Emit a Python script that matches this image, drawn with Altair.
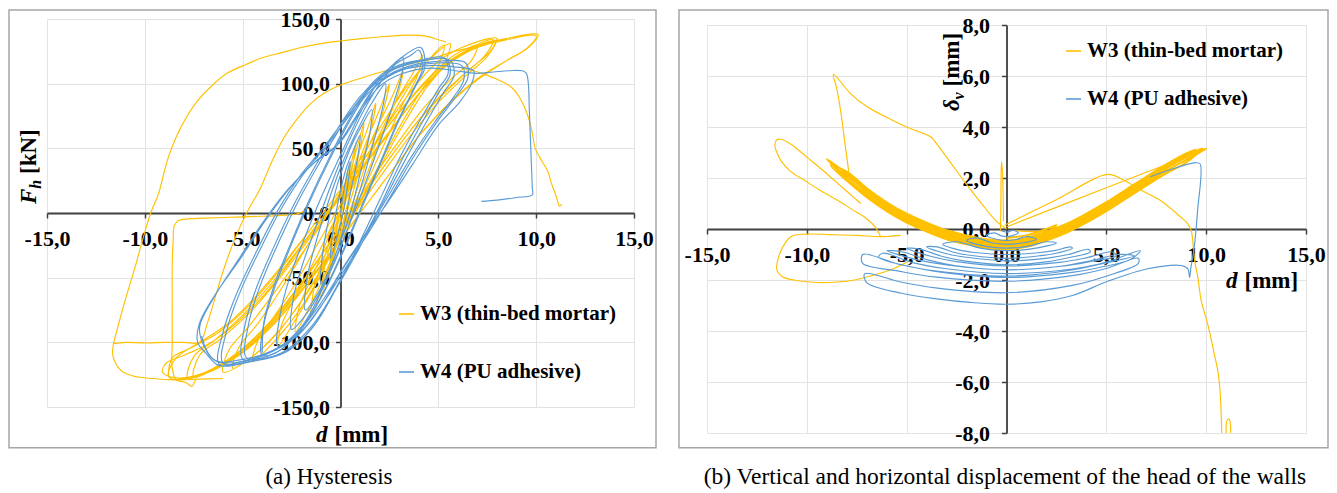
import altair as alt
import pandas as pd

SERIES = ["W3 (thin-bed mortar)", "W4 (PU adhesive)"]
COLORS = ["#FFC000", "#5B9BD5"]
D_TICKS = [-15, -10, -5, 0, 5, 10, 15]
F_TICKS = [-150, -100, -50, 0, 50, 100, 150]
V_TICKS = [-8, -6, -4, -2, 0, 2, 4, 6, 8]
SERIF = "Liberation Serif"

# ---------------- (a) hysteresis: d [mm], F_h [kN] ----------------
W3_H_CYCLES = [
    (0.0, 0), (0.15, 15), (0.4, 35),
    (0.25, 18), (0.0, -5), (-0.3, -30),
    (-0.15, -10), (0.2, 15), (0.5, 35), (0.8, 55),
    (0.6, 35), (0.25, 8), (-0.15, -20), (-0.4, -38), (-0.6, -50),
    (-0.45, -28), (-0.05, -2), (0.4, 25), (0.8, 48), (1.2, 70),
    (1.0, 50), (0.55, 20), (0.05, -12), (-0.5, -40), (-1.0, -65),
    (-0.85, -45), (-0.35, -15), (0.3, 15), (0.9, 45), (1.4, 66), (1.8, 85),
    (1.55, 64), (1.0, 35), (0.4, 4), (-0.3, -28), (-0.9, -55), (-1.5, -80),
    (-1.35, -58), (-0.8, -33), (-0.1, -3), (0.7, 30), (1.4, 58), (2.0, 80), (2.5, 100),
    (2.2, 80), (1.6, 52), (0.9, 20), (0.1, -14), (-0.7, -44), (-1.5, -70), (-2.3, -92),
    (-2.1, -72), (-1.4, -48), (-0.6, -18), (0.3, 13), (1.2, 44), (2.0, 70), (2.7, 92), (3.2, 110),
    (2.9, 90), (2.2, 64), (1.4, 32), (0.5, 0), (-0.5, -32), (-1.5, -62), (-2.4, -85), (-3.2, -103),
    (-3.0, -86), (-2.2, -62), (-1.2, -33), (-0.2, -3), (0.9, 28), (1.9, 58), (2.9, 88), (3.7, 108), (4.2, 122),
    (3.9, 105), (3.1, 82), (2.2, 52), (1.2, 19), (0.2, -12), (-0.9, -44), (-2.0, -73), (-3.3, -98), (-4.5, -115),
    (-4.2, -98), (-3.3, -78), (-2.2, -52), (-1.1, -22), (0.1, 9), (1.3, 40), (2.5, 72), (3.6, 100), (4.6, 120), (5.3, 130),
    (5.0, 114), (4.1, 94), (3.0, 66), (1.8, 32), (0.6, -2), (-0.7, -36), (-2.0, -68), (-3.3, -94), (-4.5, -111), (-5.5, -120),
    (-5.2, -104), (-4.2, -85), (-3.0, -58), (-1.8, -28), (-0.5, 4), (0.8, 36), (2.1, 68), (3.3, 96), (4.5, 118), (5.6, 131),
    (5.3, 115), (4.3, 95), (3.2, 68), (2.0, 35), (0.8, 2), (-0.5, -32), (-1.8, -64), (-3.2, -92), (-4.6, -112), (-6.0, -123),
    (-5.7, -106), (-4.7, -88), (-3.4, -62), (-2.0, -32), (-0.6, 0), (0.8, 32), (2.2, 64), (3.6, 94), (4.9, 116), (6.2, 128), (8.0, 135),
    (7.6, 124), (6.5, 110), (5.2, 92), (3.9, 70), (2.6, 44), (1.2, 14), (-0.3, -18), (-1.8, -50), (-3.3, -80), (-4.8, -103), (-6.2, -118), (-7.5, -127),
    (-7.2, -110), (-6.1, -97), (-4.7, -78), (-3.2, -52), (-1.7, -22), (-0.2, 8), (1.3, 38), (2.8, 68), (4.2, 96), (5.5, 116), (6.7, 128), (7.8, 134),
    (7.4, 122), (6.3, 107), (5.0, 88), (3.7, 66), (2.4, 40), (1.0, 10), (-0.5, -22), (-2.0, -54), (-3.6, -84), (-5.1, -106), (-6.5, -120), (-7.8, -128),
    (-7.5, -111), (-6.4, -98), (-5.0, -79), (-3.5, -54), (-2.0, -25), (-0.5, 5), (1.0, 34), (2.6, 65), (4.1, 94), (5.6, 117), (7.0, 129), (8.5, 135), (10.1, 138),
    (9.6, 128), (8.5, 118), (7.1, 105), (5.7, 87), (4.3, 65), (2.9, 38), (1.4, 8), (-0.1, -22), (-1.7, -54), (-3.3, -84), (-4.9, -106), (-6.4, -120), (-7.8, -127), (-8.6, -127), (-9.1, -123),
    (-8.9, -116), (-8.0, -110), (-6.6, -100), (-5.1, -82), (-3.6, -58), (-2.1, -28), (-0.6, 2), (0.9, 32), (2.5, 63), (4.0, 92), (5.5, 115), (7.0, 128), (8.5, 134), (10.0, 137),
    (9.5, 127), (8.4, 117), (7.0, 103), (5.6, 85), (4.2, 63), (2.8, 36), (1.3, 6), (-0.2, -25), (-1.8, -57), (-3.4, -86), (-5.0, -108), (-6.5, -121), (-7.8, -128), (-8.6, -127),
]
W3_H_REPEAT = [
    (-8.8, -126), (-8.6, -112), (-7.6, -104), (-6.2, -92), (-4.7, -72), (-3.2, -46), (-1.7, -16), (-0.2, 14),
    (1.3, 44), (2.8, 74), (4.3, 100), (5.6, 118), (6.8, 128), (7.9, 133),
    (7.5, 121), (6.4, 106), (5.1, 87), (3.8, 64), (2.5, 38), (1.1, 8), (-0.4, -24), (-1.9, -56), (-3.5, -86),
    (-5.0, -107), (-6.4, -121), (-7.6, -127), (-8.4, -129), (-8.8, -126),
    (-8.4, -112), (-7.2, -100), (-5.8, -86), (-4.3, -64), (-2.8, -37), (-1.3, -8), (0.2, 22), (1.7, 52),
    (3.2, 82), (4.6, 106), (5.8, 122), (6.6, 128), (7.0, 130),
    (6.7, 118), (5.6, 103), (4.3, 82), (3.0, 56), (1.6, 26), (0.2, -6), (-1.3, -40), (-2.9, -74), (-4.5, -100),
    (-6.0, -117), (-7.2, -125), (-8.2, -129),
]
W3_H_CURVE1 = [
    (-6.0, -128), (-7.2, -128.5), (-8.4, -129), (-9.6, -128), (-10.6, -126), (-11.2, -122), (-11.5, -116),
    (-11.65, -109), (-11.6, -101), (-11.45, -92), (-11.2, -78), (-10.9, -62), (-10.5, -42), (-10.1, -20),
    (-9.7, 0), (-9.3, 15), (-8.8, 43), (-8.1, 68), (-7.4, 85), (-6.6, 98), (-5.8, 108), (-4.8, 115),
    (-4.0, 120), (-3.0, 124), (-2.0, 128), (-1.0, 131), (0.0, 133), (1.2, 135), (2.3, 136.5), (3.5, 137.5),
    (4.3, 137), (5.0, 134), (5.4, 132),
]
W3_H_CURVE2 = [
    (-11.6, -101), (-11.0, -100), (-10.0, -100.5), (-9.0, -100), (-8.0, -100), (-7.2, -100), (-6.8, -85),
    (-6.4, -65), (-6.0, -45), (-5.4, -20), (-4.8, 0), (-4.1, 19), (-3.5, 40), (-2.9, 58), (-2.2, 73),
    (-1.5, 85), (-0.8, 93), (0.0, 99), (1.2, 105), (2.3, 110), (3.5, 115), (4.8, 120), (5.8, 125),
    (6.7, 128), (7.4, 131), (8.0, 134),
]
W3_H_DROP = [
    (-7.4, -128), (-7.6, -134), (-7.9, -131), (-8.4, -129), (-8.6, -120), (-8.6, -100), (-8.6, -70),
    (-8.6, -40), (-8.55, -20), (-8.5, -10), (-8.3, -6), (-7.8, -4.5), (-7.0, -4), (-6.0, -3.5),
    (-5.0, -3), (-4.0, -2.5), (-3.0, -1.8), (-2.3, -1), (-1.8, 2),
]
W3_H_TAIL = [
    (6.2, 112), (6.8, 110), (7.4, 107), (8.2, 102), (8.75, 97), (9.2, 88), (9.6, 74), (9.8, 62),
    (9.95, 50), (10.3, 40), (10.6, 32), (10.8, 22), (11.0, 14), (11.1, 9), (11.2, 5), (11.3, 7),
]
W4_H_CYCLES = [
    (0.0, 0), (0.2, 20), (0.5, 40),
    (0.4, 25), (0.1, -2), (-0.2, -20), (-0.5, -35),
    (-0.4, -15), (-0.1, 10), (0.3, 35), (0.7, 50), (1.0, 60),
    (0.9, 45), (0.5, 15), (0.1, -15), (-0.4, -38), (-1.0, -55),
    (-0.9, -30), (-0.6, -5), (-0.1, 25), (0.5, 50), (1.1, 68), (1.6, 80),
    (1.5, 62), (1.0, 30), (0.5, 0), (-0.2, -30), (-1.0, -58), (-1.8, -75),
    (-1.7, -50), (-1.3, -25), (-0.7, 5), (0.0, 35), (0.8, 62), (1.6, 85), (2.3, 100),
    (2.2, 85), (1.6, 50), (1.0, 18), (0.3, -15), (-0.6, -48), (-1.6, -75), (-2.5, -90),
    (-2.4, -65), (-1.9, -38), (-1.2, -8), (-0.4, 25), (0.5, 58), (1.4, 85), (2.3, 106), (3.2, 120),
    (3.1, 105), (2.6, 80), (1.8, 45), (1.0, 12), (0.1, -22), (-0.9, -58), (-2.0, -88), (-3.2, -103),
    (-3.1, -80), (-2.6, -50), (-1.8, -18), (-0.9, 15), (0.1, 48), (1.1, 80), (2.1, 105), (3.1, 120), (4.1, 128),
    (4.3, 112), (3.9, 100), (3.0, 72), (2.1, 40), (1.2, 8), (0.2, -28), (-0.9, -63), (-2.1, -92), (-3.2, -107), (-4.0, -110),
    (-3.9, -85), (-3.3, -55), (-2.5, -24), (-1.6, 8), (-0.6, 40), (0.5, 72), (1.6, 98), (2.8, 113), (4.0, 118), (5.3, 120),
    (5.5, 108), (5.0, 96), (4.0, 70), (3.0, 42), (2.0, 10), (1.0, -22), (-0.1, -55), (-1.3, -86), (-2.6, -106), (-3.9, -113), (-5.0, -113),
    (-4.9, -88), (-4.3, -58), (-3.4, -26), (-2.4, 6), (-1.3, 36), (-0.2, 64), (1.0, 90), (2.3, 108), (3.9, 117), (5.6, 118),
    (5.8, 106), (5.3, 94), (4.3, 68), (3.2, 38), (2.1, 6), (1.0, -26), (-0.2, -58), (-1.5, -88), (-3.0, -108), (-4.6, -115), (-6.2, -117),
    (-6.0, -92), (-5.3, -62), (-4.3, -30), (-3.2, 2), (-2.0, 30), (-0.8, 52), (0.5, 78), (1.8, 100), (3.2, 112), (4.8, 117), (6.4, 116),
    (6.5, 104), (6.0, 92), (5.0, 72), (3.8, 45), (2.6, 14), (1.4, -16), (0.2, -44), (-1.0, -72), (-2.3, -96), (-3.9, -109), (-5.3, -114), (-6.3, -115), (-7.0, -102), (-7.2, -88),
    (-6.5, -66), (-5.3, -38), (-4.0, -8), (-2.7, 18), (-1.4, 38), (-0.2, 52), (0.8, 75), (1.8, 98), (3.0, 110), (4.5, 114), (5.8, 113), (6.8, 110),
    (6.7, 100), (6.1, 86), (5.0, 68), (3.7, 38), (2.4, 8), (1.2, -18), (0.1, -43), (-0.9, -70), (-2.2, -95), (-3.9, -110), (-5.1, -115), (-6.2, -118), (-6.9, -108), (-7.3, -100),
    (-7.2, -85), (-6.4, -63), (-5.1, -35), (-3.8, -5), (-2.5, 21), (-1.2, 41), (0.0, 55), (1.0, 78), (2.0, 98), (3.2, 108), (4.6, 112), (5.9, 110), (6.9, 108),
    (7.8, 109), (8.6, 110), (9.3, 110), (9.5, 108), (9.6, 100), (9.65, 80), (9.7, 60), (9.75, 40), (9.8, 20), (9.8, 14), (9.0, 12), (8.0, 10), (7.2, 9),
]
W4_H_REPEAT = [
    (-4.0, -108), (-3.9, -83), (-3.3, -52), (-2.5, -22), (-1.6, 10), (-0.6, 42), (0.5, 74), (1.6, 100),
    (2.8, 115), (3.6, 122), (4.0, 126),
    (4.2, 112), (3.8, 98), (2.9, 70), (2.0, 38), (1.1, 6), (0.1, -30), (-1.0, -65), (-2.2, -93), (-3.3, -108), (-4.8, -112),
    (-4.7, -86), (-4.1, -56), (-3.2, -24), (-2.2, 8), (-1.1, 38), (0.0, 66), (1.2, 92), (2.6, 110), (4.0, 117), (5.4, 119),
    (5.6, 107), (5.1, 95), (4.1, 68), (3.1, 40), (2.1, 8), (1.0, -24), (-0.2, -57), (-1.4, -88), (-2.8, -107), (-4.4, -114), (-6.0, -116),
    (-5.8, -90), (-5.1, -60), (-4.1, -28), (-3.0, 4), (-1.8, 32), (-0.6, 54), (0.7, 80), (2.0, 101), (3.4, 112), (5.0, 116), (6.2, 114),
    (6.3, 103), (5.8, 90), (4.8, 70), (3.6, 43), (2.4, 12), (1.2, -18), (0.0, -46), (-1.2, -74), (-2.5, -97), (-4.0, -110),
    (-5.6, -116), (-6.6, -112), (-7.1, -95),
]

# ---------------- (b) vertical vs horizontal displacement: d [mm], delta_v [mm] ----------------
W3_V_BAND = [
    (0, -0.35), (1, -0.25), (2, 0.0), (2.5, 0.15),
    (2, -0.15), (1, -0.40), (0, -0.50), (-1, -0.45), (-2, -0.30), (-2.5, -0.21),
    (-2, -0.35), (-1, -0.50), (0, -0.55), (1, -0.45), (2, -0.20), (3, 0.10), (3.5, 0.30),
    (3, 0.0), (2, -0.30), (1, -0.55), (0, -0.65), (-1, -0.60), (-2, -0.45), (-3, -0.25), (-4, 0.05), (-4.5, 0.22),
    (-4, 0.10), (-3, -0.20), (-2, -0.40), (-1, -0.55), (0, -0.60), (1, -0.50), (2, -0.25), (3, 0.05), (4, 0.45), (5, 0.90), (5.5, 1.15),
    (5, 0.80), (4, 0.35), (3, -0.05), (2, -0.35), (1, -0.60), (0, -0.70), (-1, -0.65), (-2, -0.50), (-3, -0.30), (-4, 0.0), (-5, 0.35), (-6, 0.80), (-6.5, 1.07),
    (-6, 0.85), (-5, 0.40), (-4, 0.05), (-3, -0.25), (-2, -0.45), (-1, -0.60), (0, -0.65), (1, -0.55), (2, -0.30), (3, 0.0), (4, 0.40), (5, 0.85), (6, 1.35), (7, 1.85), (8, 2.33),
    (7, 1.75), (6, 1.25), (5, 0.75), (4, 0.30), (3, -0.10), (2, -0.40), (1, -0.65), (0, -0.75), (-1, -0.70), (-2, -0.55), (-3, -0.35), (-4, -0.05), (-5, 0.30), (-6, 0.75), (-7, 1.30), (-8, 1.95), (-8.5, 2.32),
    (-8, 2.10), (-7, 1.45), (-6, 0.90), (-5, 0.45), (-4, 0.10), (-3, -0.20), (-2, -0.40), (-1, -0.55), (0, -0.60), (1, -0.50), (2, -0.25), (3, 0.05), (4, 0.45), (5, 0.90), (6, 1.40), (7, 1.90), (8, 2.38), (9, 2.81), (10, 3.15),
    (9, 2.71), (8, 2.28), (7, 1.80), (6, 1.30), (5, 0.80), (4, 0.35), (3, -0.05), (2, -0.35), (1, -0.60), (0, -0.70), (-1, -0.65), (-2, -0.50), (-3, -0.30), (-4, 0.0), (-5, 0.35), (-6, 0.80), (-7, 1.35), (-8, 2.00), (-9, 2.75),
    (-8, 2.17), (-7, 1.52), (-6, 0.97), (-5, 0.52), (-4, 0.17), (-3, -0.13), (-2, -0.33), (-1, -0.48), (0, -0.53), (1, -0.43), (2, -0.18), (3, 0.12), (4, 0.52), (5, 0.97), (6, 1.47), (7, 1.97), (8, 2.45), (9, 2.88), (9.8, 3.16),
    (9, 2.61), (8, 2.18), (7, 1.70), (6, 1.20), (5, 0.70), (4, 0.25), (3, -0.15), (2, -0.45), (1, -0.70), (0, -0.80), (-1, -0.75), (-2, -0.60), (-3, -0.40), (-4, -0.10), (-5, 0.25), (-6, 0.70), (-7, 1.25), (-8, 1.90), (-8.8, 2.50),
    (-8, 2.25), (-7, 1.60), (-6, 1.05), (-5, 0.60), (-4, 0.25), (-3, -0.05), (-2, -0.25), (-1, -0.40), (0, -0.45), (1, -0.35), (2, -0.10), (3, 0.20), (4, 0.60), (5, 1.05), (6, 1.55), (7, 2.05), (8, 2.53), (9, 2.96), (9.5, 3.12),
]
W3_V_SPIKE = [
    (-7.9, 2.25), (-8.1, 3.4), (-8.3, 4.6), (-8.5, 5.5), (-8.67, 6.07), (-7.8, 5.3), (-7.0, 4.8),
    (-6.3, 4.5), (-5.0, 4.0), (-3.8, 3.62), (-3.6, 3.45), (-2.8, 2.6), (-2.0, 1.75), (-1.2, 0.95),
    (-0.5, 0.3), (0.0, 0.0),
]
W3_V_UPPER = [
    (-7.3, 1.0), (-8.0, 1.48), (-8.8, 2.03), (-9.5, 2.5), (-10.0, 2.82), (-10.5, 3.15), (-10.95, 3.4),
    (-11.3, 3.52), (-11.5, 3.5), (-11.6, 3.3), (-11.5, 3.0), (-11.3, 2.68), (-10.8, 2.25), (-10.1, 1.9),
    (-9.3, 1.5), (-8.4, 1.1), (-7.7, 0.75), (-7.1, 0.46), (-6.6, 0.1), (-6.3, -0.3),
]
W3_V_LOWER = [
    (-5.3, -0.25), (-6.3, -0.3), (-7.5, -0.25), (-8.8, -0.22), (-10.0, -0.2), (-10.8, -0.3), (-11.2, -0.7),
    (-11.45, -1.2), (-11.5, -1.6), (-11.2, -1.88), (-10.5, -2.02), (-9.5, -2.1), (-8.5, -2.08),
    (-7.6, -2.0), (-6.7, -1.82), (-5.8, -1.6), (-5.0, -1.3),
]
W3_V_LINE = [(0.0, 0.08), (5.0, 1.62), (10.0, 3.12)]
W3_V_TAIL = [
    (-0.1, 0.15), (2.5, 1.15), (5.08, 2.14), (5.9, 1.9), (6.8, 1.5), (7.75, 1.1), (8.75, 0.45),
    (9.08, 0.2), (9.25, -0.06), (9.42, -1.23), (9.58, -1.88), (9.75, -2.8), (10.1, -3.8),
    (10.4, -4.87), (10.6, -5.65), (10.7, -6.4), (10.75, -7.2), (10.78, -8.0),
]
W3_V_HOOK = [(11.0, -8.0), (11.05, -7.5), (11.15, -7.45), (11.22, -7.7), (11.22, -8.0)]
W3_V_STEM = [(-0.3, -0.1), (-0.28, 1.2), (-0.25, 2.65), (-0.2, 2.2), (-0.15, 0.3)]
W3_V_DASH = [(0.3, -0.05), (1.5, -0.1), (3.2, 0.0)]
W4_V_ARCS = [
    (-0.3, -0.05), (-0.15, -0.10), (0, -0.12), (0.15, -0.10), (0.3, -0.05),
    (0.6, -0.15), (0.3, -0.26), (0, -0.30), (-0.3, -0.26), (-0.6, -0.15),
    (-1.0, -0.25), (-0.5, -0.40), (0, -0.45), (0.5, -0.41), (1.0, -0.30),
    (1.5, -0.40), (0.75, -0.55), (0, -0.60), (-0.75, -0.54), (-1.5, -0.35),
    (-2.0, -0.45), (-1.0, -0.68), (0, -0.75), (1.0, -0.69), (2.0, -0.50),
    (2.5, -0.55), (1.25, -0.78), (0, -0.85), (-1.25, -0.76), (-2.5, -0.50),
    (-3.2, -0.60), (-2.4, -0.82), (-1.6, -0.92), (0, -1.00), (1.6, -0.93), (2.4, -0.85), (3.2, -0.70),
    (3.3, -0.75), (2.5, -0.95), (1.65, -1.05), (0, -1.15), (-1.75, -1.04), (-2.6, -0.92), (-3.5, -0.70),
    (-4.0, -0.70), (-3.0, -0.97), (-2.0, -1.11), (0, -1.25), (2.05, -1.14), (3.1, -1.0), (4.1, -0.80),
    (4.2, -0.90), (3.15, -1.12), (2.1, -1.28), (0, -1.40), (-2.15, -1.25), (-3.2, -1.08), (-4.3, -0.80),
    (-5.0, -0.75), (-3.75, -1.08), (-2.5, -1.28), (0, -1.45), (2.65, -1.31), (4.0, -1.13), (5.3, -0.90),
    (5.5, -1.05), (4.1, -1.29), (2.75, -1.46), (0, -1.60), (-2.6, -1.43), (-3.9, -1.22), (-5.2, -0.90),
    (-6.0, -0.85), (-4.5, -1.20), (-3.0, -1.41), (0, -1.60), (2.8, -1.45), (4.2, -1.25), (5.6, -1.00),
    (6.4, -1.05), (4.8, -1.36), (3.2, -1.58), (0, -1.75), (-3.1, -1.55), (-4.65, -1.33), (-6.2, -0.95),
    (-6.4, -1.10), (-4.8, -1.48), (-3.2, -1.70), (0, -1.90), (3.1, -1.72), (4.65, -1.51), (6.2, -1.20),
    (6.7, -0.85), (5.0, -1.30), (3.35, -1.60), (0, -1.85), (-3.6, -1.64), (-5.4, -1.38), (-7.2, -1.00),
    (-7.2, -1.35), (-5.4, -1.65), (-3.6, -1.88), (0, -2.05), (3.3, -1.83), (4.95, -1.56), (6.6, -1.15),
    (6.6, -1.35), (4.95, -1.86), (3.3, -2.21), (0, -2.50), (-3.55, -2.31), (-5.3, -2.08), (-7.1, -1.75),
    (-7.0, -2.10), (-5.25, -2.52), (-3.5, -2.74), (-1.8, -2.88), (0, -2.95), (1.7, -2.86), (3.3, -2.61), (5.07, -2.05),
    (7.08, -1.56), (8.75, -1.43), (9.08, -1.56), (9.17, -1.9), (9.22, -1.6), (9.4, -0.72),
    (9.57, 0.72), (9.7, 2.55), (9.5, 2.6), (8.5, 2.4), (7.2, 2.05),
]

ONE = pd.DataFrame({"k": [0]})


def frame(parts):
    rows = []
    for series, name, pts in parts:
        for i, (x, y) in enumerate(pts):
            rows.append({"series": series, "seg": name, "i": i, "x": x, "y": y})
    return pd.DataFrame(rows)


LAB = "(datum.value < 0 ? '-' : '') + replace(format(abs(datum.value), '.1f'), '.', ',')"


def axis_common():
    return dict(labelExpr=LAB, labelFont=SERIF, labelFontWeight="bold", labelFontSize=22,
                labelColor="black", domainColor="#404040", domainWidth=1.8, tickColor="#404040",
                tickWidth=1.5, tickSize=5, gridColor="#E3E3E3", gridWidth=1, grid=True,
                labelOverlap=False, labelFlush=False, labelBound=False, title=None)


def lines(df, ydom, yticks, W, H, lx, ly, rowpad, ylabpad):
    x = alt.X("x:Q", scale=alt.Scale(domain=[-15, 15], nice=False, zero=False),
              axis=alt.Axis(values=D_TICKS, offset=-H / 2, labelPadding=10, **axis_common()))
    y = alt.Y("y:Q", scale=alt.Scale(domain=ydom, nice=False, zero=False),
              axis=alt.Axis(values=yticks, offset=-W / 2, labelPadding=ylabpad, **axis_common()))
    color = alt.Color("series:N", scale=alt.Scale(domain=SERIES, range=COLORS),
                      legend=alt.Legend(title=None, orient="none", legendX=lx, legendY=ly,
                                        symbolType="stroke", symbolSize=225, symbolStrokeWidth=1.6,
                                        labelFont=SERIF, labelFontWeight="bold", labelFontSize=21,
                                        labelColor="black", labelOffset=3, rowPadding=rowpad,
                                        padding=0, labelLimit=400))
    return alt.Chart(df).mark_line(clip=True, strokeJoin="round", interpolate="catmull-rom").encode(
        x=x, y=y, color=color, detail="seg:N", order="i:Q",
        strokeWidth=alt.condition("datum.seg == 'band'", alt.value(2.0), alt.value(1.15)),
    )


def txt(s, x, y, size=23, style="normal", weight="bold", angle=0, align="left"):
    return alt.Chart(ONE).mark_text(text=s, font=SERIF, fontSize=size, fontStyle=style,
                                    fontWeight=weight, angle=angle, align=align,
                                    baseline="alphabetic", color="black").encode(
        x=alt.value(x), y=alt.value(y))


def border(x1, x2, y1, y2):
    return alt.Chart(ONE).mark_rect(fill="white", fillOpacity=0, stroke="#A6A6A6",
                                    strokeWidth=1.5).encode(
        x=alt.value(x1), x2=alt.value(x2), y=alt.value(y1), y2=alt.value(y2))


LW, LH = 587, 388
RW, RH = 599, 408

left_df = frame([
    (SERIES[0], "a1", W3_H_CYCLES), (SERIES[0], "a6", W3_H_REPEAT), (SERIES[0], "a2", W3_H_CURVE1),
    (SERIES[0], "a3", W3_H_CURVE2), (SERIES[0], "a4", W3_H_DROP), (SERIES[0], "a5", W3_H_TAIL),
    (SERIES[1], "b1", W4_H_CYCLES), (SERIES[1], "b2", W4_H_REPEAT),
])
right_df = frame([
    (SERIES[0], "band", W3_V_BAND), (SERIES[0], "c1", W3_V_SPIKE), (SERIES[0], "c2", W3_V_UPPER),
    (SERIES[0], "c3", W3_V_LOWER), (SERIES[0], "c4", W3_V_LINE), (SERIES[0], "c5", W3_V_TAIL),
    (SERIES[0], "c6", W3_V_HOOK), (SERIES[0], "c7", W3_V_STEM), (SERIES[0], "c8", W3_V_DASH),
    (SERIES[1], "d1", W4_V_ARCS),
])

left = alt.layer(
    border(-38, 609, -9, 428.7),
    lines(left_df, [-150, 150], F_TICKS, LW, LH, 349, 284.5, 36, 6),
    txt("F", -11, 185, style="italic", angle=270),
    txt("h", -6, 169.7, size=16, style="italic", angle=270),
    txt("[kN]", -11, 155, angle=270),
    txt("d", 269, 423, style="italic"),
    txt("[mm]", 287.5, 423),
    txt("(a) Hysteresis", 282, 465, weight="normal", align="center"),
).properties(width=LW, height=LH)

right = alt.layer(
    border(-28, 621, -15, 422.7),
    lines(right_df, [-8, 8], V_TICKS, RW, RH, 356, 15.5, 26, 12),
    txt("δ", 252, 86, style="italic", angle=270),
    txt("v", 257, 74.5, size=16, style="italic", angle=270),
    txt("[mm]", 252, 61.5, angle=270),
    txt("d", 519, 263, style="italic"),
    txt("[mm]", 537.5, 263),
    txt("(b) Vertical and horizontal displacement of the head of the walls", 298, 459,
        size=23.5, weight="normal", align="center"),
).properties(width=RW, height=RH)

spacer = alt.Chart(ONE).mark_point(opacity=0).properties(width=RW, height=6)
rcol = alt.vconcat(spacer, right, spacing=0, bounds="flush").resolve_legend(color="independent")

chart = alt.hconcat(left, rcol, spacing=73, bounds="flush").resolve_legend(
    color="independent").properties(padding=0, background="white").configure_view(strokeWidth=0)

chart.save("out.html", embed_options={"renderer": "svg", "actions": False})
